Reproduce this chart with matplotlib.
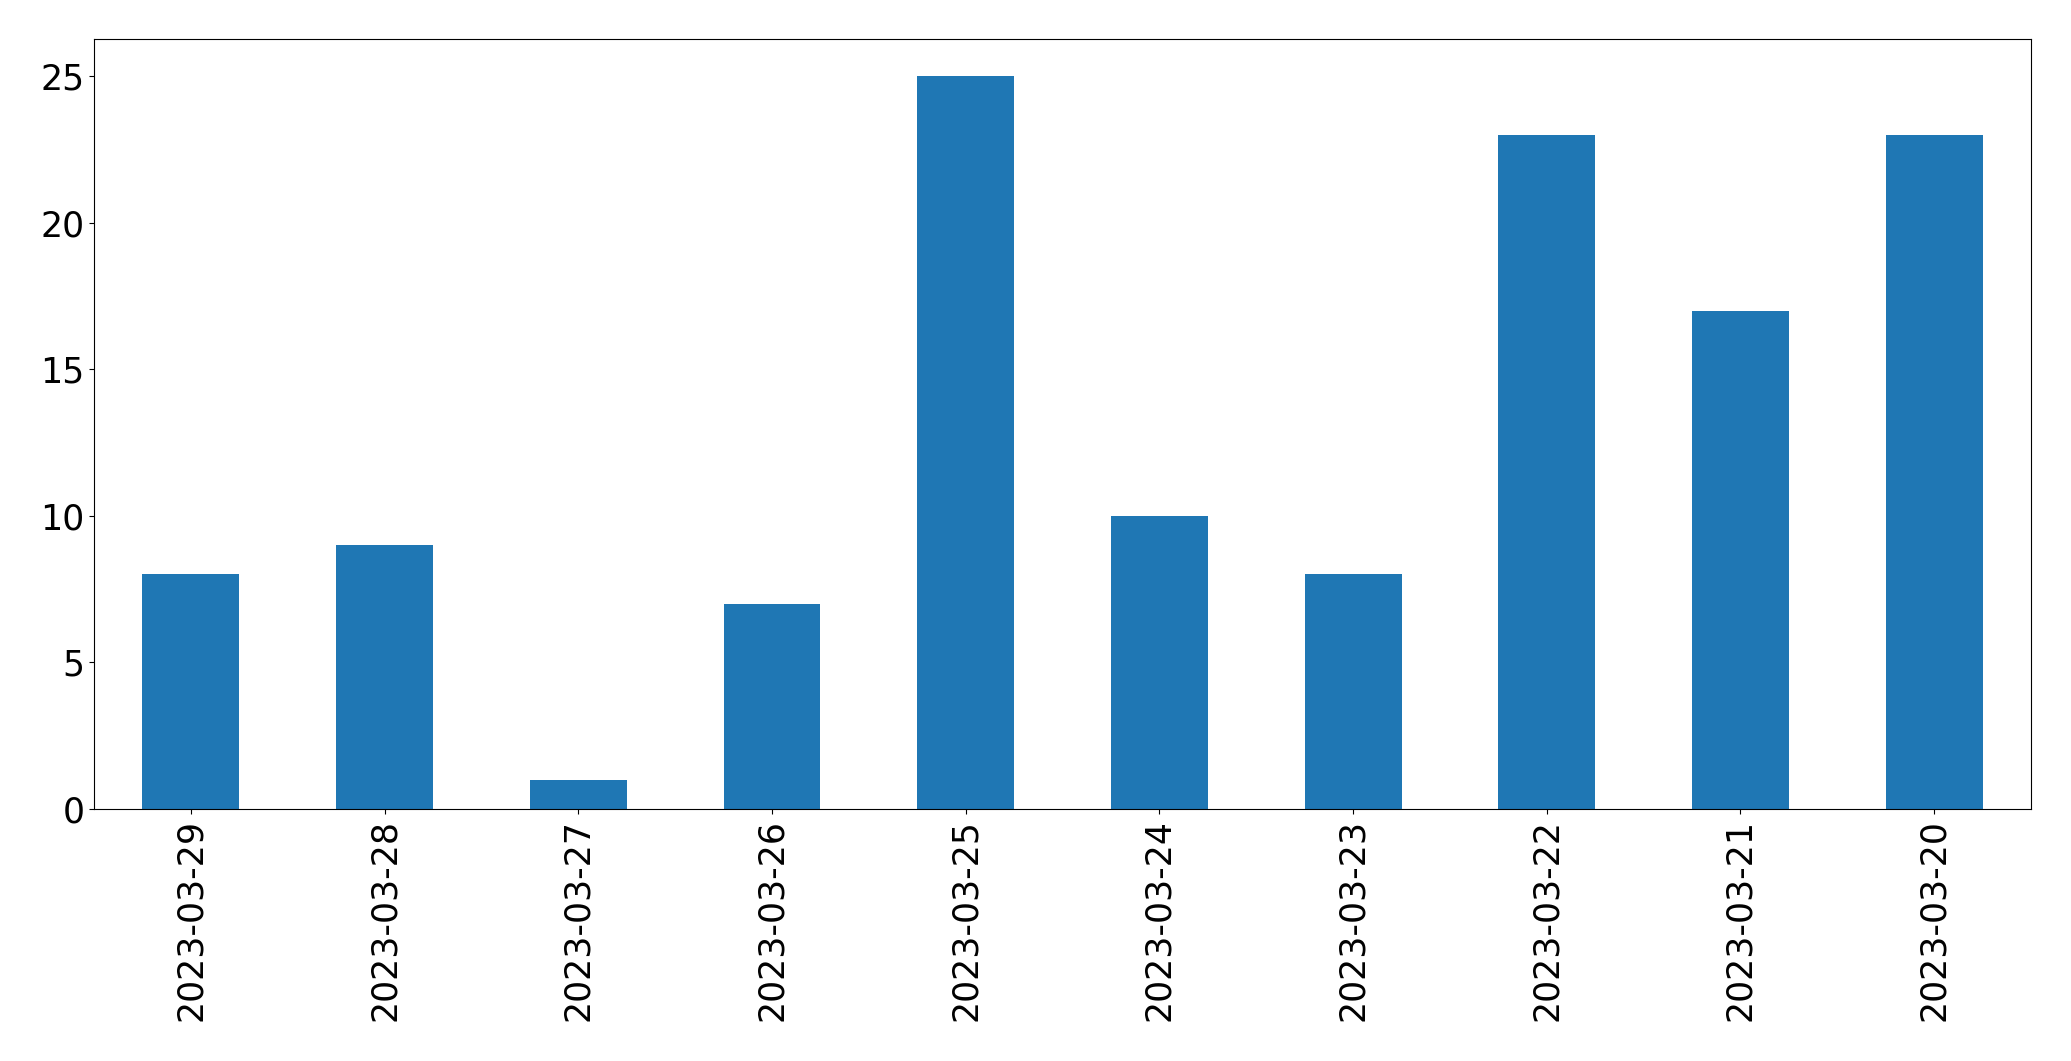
import matplotlib
matplotlib.use('Agg')
import matplotlib.pyplot as plt

dates = ['2023-03-29', '2023-03-28', '2023-03-27', '2023-03-26', '2023-03-25',
         '2023-03-24', '2023-03-23', '2023-03-22', '2023-03-21', '2023-03-20']
counts = [8, 9, 1, 7, 25, 10, 8, 23, 17, 23]

fig, ax = plt.subplots(figsize=(20.71, 10.61), dpi=100)
fig.subplots_adjust(left=0.0454, right=0.9807, top=0.963, bottom=0.2375)

x = range(len(dates))
ax.bar(x, counts, width=0.5, color='#1f77b4')
ax.set_xlim(-0.5, len(dates) - 0.5)
ax.set_xticks(list(x))
ax.set_xticklabels(dates, rotation=90)
ax.tick_params(labelsize=25)

fig.savefig('out.png', dpi=100)
